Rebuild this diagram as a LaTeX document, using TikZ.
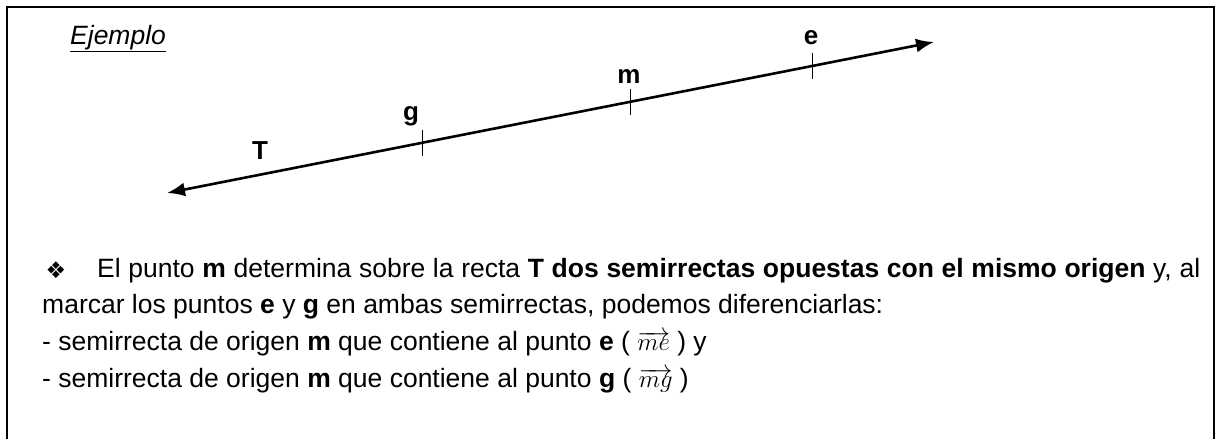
\documentclass[tikz,border=0pt]{standalone}
\usepackage{fontspec}
\setmainfont{Liberation Sans}
\newfontfamily\dejavu{DejaVu Sans}
\usetikzlibrary{arrows.meta,calc}
\begin{document}
\begin{tikzpicture}[x=1pt,y=-1pt,
  frame/.style={line width=2pt,black},
  rayline/.style={line width=2.6pt,{Latex[length=18pt,width=14pt]}-{Latex[length=18pt,width=14pt]}},
  tick/.style={line width=1.3pt},
  lbl/.style={font=\fontsize{26}{30}\selectfont\bfseries,inner sep=0pt},
  txt/.style={font=\fontsize{26.5}{30}\selectfont,anchor=base west,inner sep=0pt}]
\useasboundingbox (0,0) rectangle (1220,439);
% frame, open at the bottom
\draw[frame] (7,439) -- (7,7) -- (1214,7) -- (1214,439);
% heading
\node[txt] (ej) at (70,44) {\underline{\textit{Ejemplo}}};
% the line T
\coordinate (A) at (167,193);
\coordinate (B) at (934,42);
\draw[rayline] (A) -- (B);
\coordinate (pg) at ($(A)!0.333!(B)$);
\coordinate (pm) at ($(A)!0.604!(B)$);
\coordinate (pe) at ($(A)!0.842!(B)$);
\foreach \p in {pg,pm,pe}{
  \draw[tick] ($(\p)+(0,-13)$) -- ($(\p)+(0,13)$);
}
\node[lbl] (lT) at (260,151) {T};
\node[lbl] (lg) at (411,116) {g};
\node[lbl] (lm) at (629,76) {m};
\node[lbl] (le) at (811,38) {e};
% text
\node[font=\dejavu\fontsize{23}{26}\selectfont,inner sep=0pt] (bul) at (56,270) {❖};
\node[txt] (t1) at (97,277) {\makebox[1103pt][s]{El punto \textbf{m} determina sobre la recta \textbf{T dos semirrectas opuestas con el mismo origen} y, al}};
\node[txt] (t2) at (42,313) {marcar los puntos \textbf{e} y \textbf{g} en ambas semirrectas, podemos diferenciarlas:};
\node[txt] (t3) at (42,350) {- semirrecta de origen \textbf{m} que contiene al punto \textbf{e} ( $\smash{\overrightarrow{me}}$ ) y};
\node[txt] (t4) at (42,387) {- semirrecta de origen \textbf{m} que contiene al punto \textbf{g} ( $\smash{\overrightarrow{mg}}$ )};
\end{tikzpicture}
\end{document}
